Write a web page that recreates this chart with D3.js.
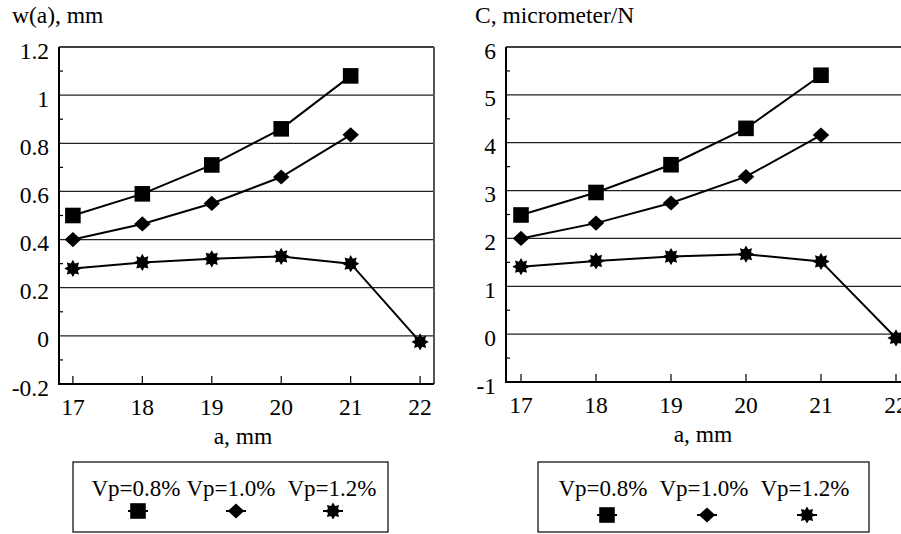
<!DOCTYPE html>
<html>
<head>
<meta charset="utf-8">
<script src="https://cdn.jsdelivr.net/npm/d3@7"></script>
<style>
  body { margin: 0; background: #fff; }
  svg text { font-family: "Liberation Serif", "Times New Roman", "DejaVu Serif", serif; }
</style>
</head>
<body>
<svg id="chart" width="901" height="534"></svg>
<script>
// data
var aValues = [17, 18, 19, 20, 21, 22];
var seriesNames = ["Vp=0.8%", "Vp=1.0%", "Vp=1.2%"];
var markerTypes = ["square", "diamond", "star"];

// w(a), mm
var wVp08 = [0.50, 0.59, 0.71, 0.86, 1.08];
var wVp10 = [0.40, 0.465, 0.55, 0.66, 0.835];
var wVp12 = [0.28, 0.305, 0.32, 0.33, 0.30, -0.025];
var wTicks = [-0.2, 0, 0.2, 0.4, 0.6, 0.8, 1, 1.2];

// C, micrometer/N
var cVp08 = [2.49, 2.96, 3.54, 4.30, 5.41];
var cVp10 = [2.0, 2.32, 2.74, 3.29, 4.16];
var cVp12 = [1.41, 1.53, 1.62, 1.67, 1.52, -0.08];
var cTicks = [-1, 0, 1, 2, 3, 4, 5, 6];

var serif = "'Liberation Serif', 'Times New Roman', 'DejaVu Serif', serif";
var svg = d3.select("#chart");

function markerPath(type) {
    if (type == "square") {
        return "M-7.8,-7.8H7.8V7.8H-7.8Z";
    }
    if (type == "diamond") {
        return "M0,-7.6L8.2,0L0,7.6L-8.2,0Z";
    }
    // filled star with 8 points
    var pts = [];
    for (var k = 0; k < 16; k++) {
        var r = (k % 2 == 0) ? 8.6 : 5.4;
        var ang = -Math.PI / 2 + k * Math.PI / 8;
        pts.push([r * Math.cos(ang), r * Math.sin(ang)]);
    }
    return "M" + pts.map(function(p){ return p[0].toFixed(2) + "," + p[1].toFixed(2); }).join("L") + "Z";
}

function drawChart(opt) {
    var g = svg.append("g");
    var x = d3.scaleLinear().domain([16.8, 22.2]).range([opt.left, opt.right]);
    var y = d3.scaleLinear().domain([opt.ticks[0], opt.ticks[opt.ticks.length - 1]])
        .range([opt.bottom, opt.top]);

    // grid lines
    g.selectAll("line.grid")
        .data(opt.ticks.slice(1, -1))
        .enter().append("line")
        .attr("x1", opt.left).attr("x2", opt.right)
        .attr("y1", function(d){ return y(d); })
        .attr("y2", function(d){ return y(d); })
        .attr("stroke", "#222")
        .attr("stroke-width", 1.2);

    // minor y ticks between the grid lines
    var minor = [];
    for (var i = 0; i < opt.ticks.length - 1; i++) {
        minor.push((opt.ticks[i] + opt.ticks[i + 1]) / 2);
    }
    g.selectAll("line.minor")
        .data(minor)
        .enter().append("line")
        .attr("x1", opt.left).attr("x2", opt.left + 4)
        .attr("y1", function(d){ return y(d); })
        .attr("y2", function(d){ return y(d); })
        .attr("stroke", "#000")
        .attr("stroke-width", 1.2);

    // x ticks pointing up inside the frame
    g.selectAll("line.xtick")
        .data(aValues)
        .enter().append("line")
        .attr("x1", function(d){ return x(d); })
        .attr("x2", function(d){ return x(d); })
        .attr("y1", opt.bottom).attr("y2", opt.bottom - 8)
        .attr("stroke", "#000")
        .attr("stroke-width", 1.2);

    // frame
    g.append("line").attr("x1", opt.left).attr("x2", opt.right)
        .attr("y1", opt.top).attr("y2", opt.top)
        .attr("stroke", "#000").attr("stroke-width", 1.5);
    g.append("line").attr("x1", opt.right).attr("x2", opt.right)
        .attr("y1", opt.top).attr("y2", opt.bottom)
        .attr("stroke", "#555").attr("stroke-width", 2);
    g.append("line").attr("x1", opt.left).attr("x2", opt.left)
        .attr("y1", opt.top).attr("y2", opt.bottom + 1)
        .attr("stroke", "#000").attr("stroke-width", 2);
    g.append("line").attr("x1", opt.left).attr("x2", opt.right)
        .attr("y1", opt.bottom).attr("y2", opt.bottom)
        .attr("stroke", "#000").attr("stroke-width", 2);

    // tick labels
    g.selectAll("text.ylab")
        .data(opt.ticks)
        .enter().append("text")
        .attr("x", opt.left - 10)
        .attr("y", function(d){ return y(d) + 11.5; })
        .attr("text-anchor", "end")
        .attr("font-family", serif)
        .attr("font-size", 23.5)
        .text(function(d){ return String(d); });

    g.selectAll("text.xlab")
        .data(aValues)
        .enter().append("text")
        .attr("x", function(d){ return x(d); })
        .attr("y", opt.bottom + 31)
        .attr("text-anchor", "middle")
        .attr("font-family", serif)
        .attr("font-size", 23.5)
        .text(function(d){ return d; });

    g.append("text")
        .attr("x", (opt.left + opt.titleRight) / 2)
        .attr("y", opt.bottom + 60)
        .attr("text-anchor", "middle")
        .attr("font-family", serif)
        .attr("font-size", 23.5)
        .text("a, mm");

    g.append("text")
        .attr("x", opt.yTitleX)
        .attr("y", 23)
        .attr("font-family", serif)
        .attr("font-size", 23.5)
        .text(opt.yTitle);

    // series
    var line = d3.line()
        .x(function(d){ return x(d[0]); })
        .y(function(d){ return y(d[1]); });

    opt.series.forEach(function(vals, s) {
        var pts = vals.map(function(v, i){ return [aValues[i], v]; });
        g.append("path")
            .attr("d", line(pts))
            .attr("fill", "none")
            .attr("stroke", "#000")
            .attr("stroke-width", 2);
        g.selectAll("path.m" + s)
            .data(pts)
            .enter().append("path")
            .attr("transform", function(d){ return "translate(" + x(d[0]) + "," + y(d[1]) + ")"; })
            .attr("d", markerPath(markerTypes[s]))
            .attr("fill", "#000");
    });

    // legend
    var lg = svg.append("g");
    lg.append("rect")
        .attr("x", opt.legend.x).attr("y", 462)
        .attr("width", opt.legend.w).attr("height", 70)
        .attr("fill", "#fff")
        .attr("stroke", "#000")
        .attr("stroke-width", 1.2);
    seriesNames.forEach(function(name, s) {
        var cx = opt.legend.cx[s];
        lg.append("text")
            .attr("x", cx)
            .attr("y", 496)
            .attr("text-anchor", "middle")
            .attr("font-family", serif)
            .attr("font-size", 23)
            .text(name);
        lg.append("line")
            .attr("x1", opt.legend.mx[s] - 10).attr("x2", opt.legend.mx[s] + 10)
            .attr("y1", opt.legend.my).attr("y2", opt.legend.my)
            .attr("stroke", "#000").attr("stroke-width", 2);
        lg.append("path")
            .attr("transform", "translate(" + opt.legend.mx[s] + "," + opt.legend.my + ")")
            .attr("d", markerPath(markerTypes[s]))
            .attr("fill", "#000");
    });
}

drawChart({
    left: 59, right: 434, top: 47, bottom: 384, titleRight: 427,
    ticks: wTicks,
    series: [wVp08, wVp10, wVp12],
    yTitle: "w(a), mm", yTitleX: 12,
    legend: { x: 73, w: 315, cx: [136, 231, 332], mx: [138, 236, 333], my: 511 }
});

drawChart({
    left: 506, right: 911, top: 47, bottom: 382, titleRight: 900,
    ticks: cTicks,
    series: [cVp08, cVp10, cVp12],
    yTitle: "C, micrometer/N", yTitleX: 475,
    legend: { x: 538, w: 331, cx: [603, 704, 805], mx: [607, 707, 807], my: 515 }
});
</script>
</body>
</html>
